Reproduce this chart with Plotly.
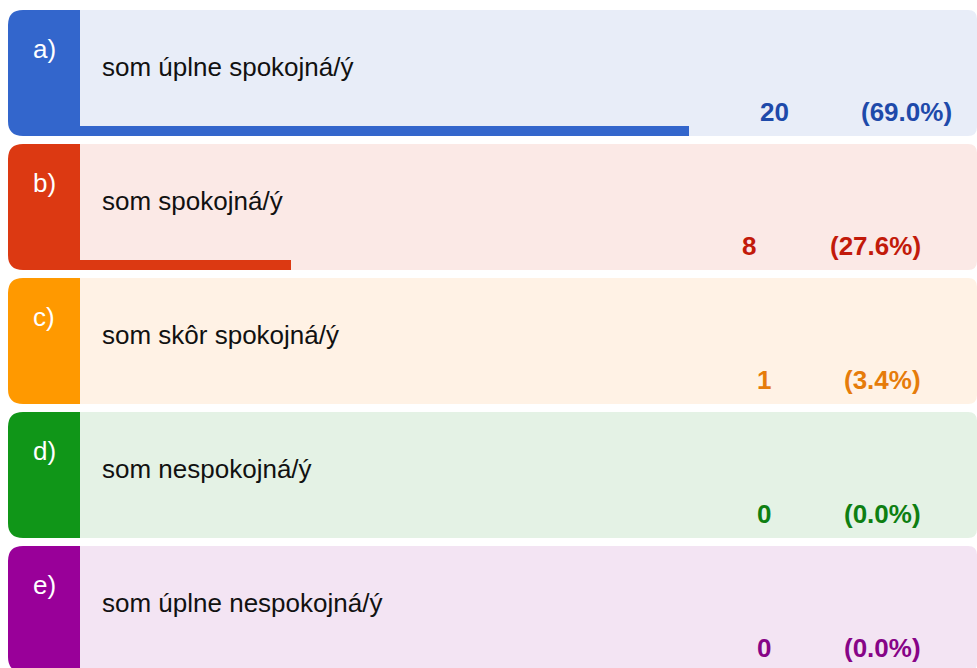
import plotly.graph_objects as go

# ---- data ----
letters = ["a)", "b)", "c)", "d)", "e)"]
labels = ["som úplne spokojná/ý", "som spokojná/ý", "som skôr spokojná/ý",
          "som nespokojná/ý", "som úplne nespokojná/ý"]
counts = [20, 8, 1, 0, 0]

# ---- styles ----
tab_colors = ["#3366CC", "#DC3912", "#FF9900", "#109618", "#990099"]
bg_colors = ["#E8EDF8", "#FBE9E6", "#FFF2E5", "#E4F2E5", "#F3E4F3"]
txt_colors = ["#1E4AAA", "#C21A0A", "#E67C0A", "#0E7F12", "#870487"]

W, H = 977, 668
row_top0, row_pitch, row_h = 10, 134, 126
tab_x0, tab_x1, row_x1 = 8, 80, 977
count_cx = [774, 749, 764, 764, 764]
pct_right = [952, 921, 921, 921, 921]
FONT = "Arial, Liberation Sans"
FS = 26

total = sum(counts)
pcts = [c / total * 100 for c in counts]

fig = go.Figure()
shapes = []
annotations = []

def rounded_left(x0, x1, y0, y1, r):
    return (f"M {x1},{y0} L {x0 + r},{y0} Q {x0},{y0} {x0},{y0 + r} "
            f"L {x0},{y1 - r} Q {x0},{y1} {x0 + r},{y1} L {x1},{y1} Z")

def rounded_right(x0, x1, y0, y1, r):
    return (f"M {x0},{y0} L {x1 - r},{y0} Q {x1},{y0} {x1},{y0 + r} "
            f"L {x1},{y1 - r} Q {x1},{y1} {x1 - r},{y1} L {x0},{y1} Z")

bar_y = []
for i in range(len(letters)):
    y0 = row_top0 + i * row_pitch
    y1 = y0 + row_h
    bar_y.append(y1 - 5)
    shapes.append(dict(type="path", path=rounded_right(tab_x1 - 1, row_x1, y0, y1, 9),
                       fillcolor=bg_colors[i], line=dict(width=0), layer="below",
                       xref="x", yref="y"))
    shapes.append(dict(type="path", path=rounded_left(tab_x0, tab_x1, y0, y1, 15),
                       fillcolor=tab_colors[i], line=dict(width=0), layer="above",
                       xref="x", yref="y"))
    annotations.append(dict(x=(tab_x0 + tab_x1) / 2, y=y0 + 39, text=letters[i],
                            xref="x", yref="y", showarrow=False, xanchor="center",
                            yanchor="middle",
                            font=dict(family=FONT, size=FS, color="white")))
    annotations.append(dict(x=100, y=y0 + 57, text=labels[i], xref="x", yref="y",
                            showarrow=False, xanchor="left", yanchor="middle",
                            font=dict(family=FONT, size=FS, color="#111111")))
    annotations.append(dict(x=count_cx[i], y=y0 + 102, text=f"<b>{counts[i]}</b>",
                            xref="x", yref="y", showarrow=False, xanchor="center",
                            yanchor="middle",
                            font=dict(family=FONT, size=FS, color=txt_colors[i])))
    annotations.append(dict(x=pct_right[i] + 2, y=y0 + 102, text=f"<b>({pcts[i]:.1f}%)</b>",
                            xref="x", yref="y", showarrow=False, xanchor="right",
                            yanchor="middle",
                            font=dict(family=FONT, size=FS, color=txt_colors[i])))

# bars on their own percent scale (0% hidden behind the tab)
fig.add_trace(go.Bar(orientation="h", x=pcts, y=bar_y, base=0, width=10,
                     marker=dict(color=tab_colors, line=dict(width=0)),
                     xaxis="x2", yaxis="y", hoverinfo="skip", showlegend=False))

fig.update_layout(
    width=W, height=H,
    margin=dict(l=0, r=0, t=0, b=0),
    paper_bgcolor="white", plot_bgcolor="white",
    xaxis=dict(range=[0, W], visible=False, fixedrange=True),
    xaxis2=dict(range=[-26 / 9.61, (W - 26) / 9.61], overlaying="x",
                visible=False, fixedrange=True),
    yaxis=dict(range=[H, 0], visible=False, fixedrange=True),
    shapes=shapes, annotations=annotations,
    bargap=0,
)

fig.write_html("out.html",
               config={"displayModeBar": False},
               post_script="document.body.style.margin='0';"
                           "document.body.style.overflow='hidden';")
